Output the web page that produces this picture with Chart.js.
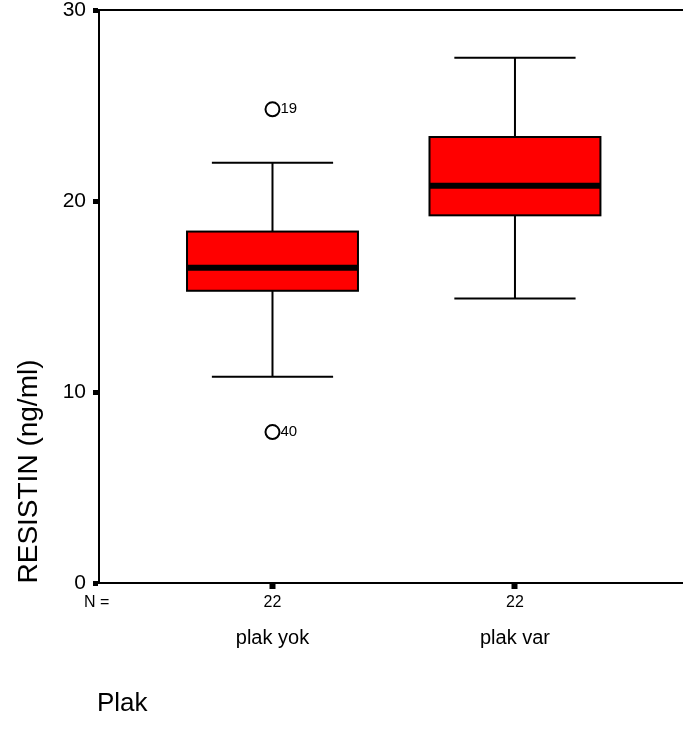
<!DOCTYPE html>
<html>
<head>
<meta charset="utf-8">
<script src="https://cdn.jsdelivr.net/npm/chart.js@4.4.1/dist/chart.umd.min.js"></script>
<style>
  body { margin: 0; background: #fff; }
  #wrap { position: relative; width: 683px; height: 729px; }
</style>
</head>
<body>
<div id="wrap"><canvas id="box-chart"></canvas></div>
<script>
// data
const categories = ['plak yok', 'plak var'];
const counts = [22, 22];
const whiskerLow = [10.8, 14.9];
const q1 = [15.3, 19.25];
const median = [16.5, 20.8];
const q3 = [18.4, 23.35];
const whiskerHigh = [22.0, 27.5];
const outlierValues = [[24.8, 7.9], []];
const outlierIds = [['19', '40'], []];
const yTicks = [0, 10, 20, 30];

const FONT = "'Liberation Sans', Arial, Helvetica, sans-serif";
const BOX_W = 0.705;   // in x units
const CAP_W = 0.5;

const outlierPoints = [];
outlierValues.forEach((vals, i) => vals.forEach(v => outlierPoints.push({ x: i + 1, y: v })));

const boxPlugin = {
    id: 'boxes',
    beforeDatasetsDraw(chart) {
        const ctx = chart.ctx;
        const xs = chart.scales.x, ys = chart.scales.y;
        ctx.save();
        categories.forEach((c, i) => {
            const cx = xs.getPixelForValue(i + 1);
            const half = xs.getPixelForValue(i + 1 + BOX_W / 2) - cx;
            const capHalf = xs.getPixelForValue(i + 1 + CAP_W / 2) - cx;
            const yLo = ys.getPixelForValue(whiskerLow[i]);
            const yHi = ys.getPixelForValue(whiskerHigh[i]);
            const yQ1 = ys.getPixelForValue(q1[i]);
            const yQ3 = ys.getPixelForValue(q3[i]);
            const yMed = ys.getPixelForValue(median[i]);

            // whiskers
            ctx.strokeStyle = '#000';
            ctx.lineWidth = 2;
            ctx.beginPath();
            ctx.moveTo(cx, yQ3); ctx.lineTo(cx, yHi);
            ctx.moveTo(cx, yQ1); ctx.lineTo(cx, yLo);
            ctx.moveTo(cx - capHalf, yHi); ctx.lineTo(cx + capHalf, yHi);
            ctx.moveTo(cx - capHalf, yLo); ctx.lineTo(cx + capHalf, yLo);
            ctx.stroke();

            // box
            ctx.fillStyle = '#ff0000';
            ctx.fillRect(cx - half, yQ3, half * 2, yQ1 - yQ3);
            ctx.lineWidth = 2;
            ctx.strokeRect(cx - half, yQ3, half * 2, yQ1 - yQ3);

            // median
            ctx.lineWidth = 6;
            ctx.beginPath();
            ctx.moveTo(cx - half, yMed); ctx.lineTo(cx + half, yMed);
            ctx.stroke();
        });
        ctx.restore();
    },
    afterDraw(chart) {
        const ctx = chart.ctx;
        const xs = chart.scales.x, ys = chart.scales.y;
        const area = chart.chartArea;
        ctx.save();

        // top frame line
        ctx.strokeStyle = '#000';
        ctx.lineWidth = 2;
        ctx.beginPath();
        ctx.moveTo(area.left, area.top);
        ctx.lineTo(area.right, area.top);
        ctx.stroke();

        ctx.fillStyle = '#000';

        // outlier case numbers
        ctx.font = '15px ' + FONT;
        ctx.textAlign = 'left';
        ctx.textBaseline = 'middle';
        outlierValues.forEach((vals, i) => {
            vals.forEach((v, j) => {
                const px = xs.getPixelForValue(i + 1) + 8;
                const py = ys.getPixelForValue(v);
                ctx.fillText(outlierIds[i][j], px, py);
            });
        });

        // N row
        ctx.textBaseline = 'alphabetic';
        ctx.font = '16px ' + FONT;
        ctx.textAlign = 'left';
        ctx.fillText('N =', 84, 607);
        ctx.textAlign = 'center';
        counts.forEach((n, i) => ctx.fillText(String(n), xs.getPixelForValue(i + 1), 607));

        // category labels
        ctx.font = '20px ' + FONT;
        categories.forEach((c, i) => ctx.fillText(c, xs.getPixelForValue(i + 1), 644));

        // x axis title
        ctx.font = '26px ' + FONT;
        ctx.textAlign = 'left';
        ctx.fillText('Plak', 97, 711);

        // y axis title
        ctx.translate(37, (ys.getPixelForValue(0) + 358) / 2 + 1);
        ctx.rotate(-Math.PI / 2);
        ctx.font = '28px ' + FONT;
        ctx.textAlign = 'center';
        ctx.fillText('RESISTIN (ng/ml)', 0, 0);

        ctx.restore();
    }
};

new Chart(document.querySelector('#box-chart').getContext('2d'), {
    type: 'scatter',
    data: {
        datasets: [{
            label: 'outliers',
            data: outlierPoints,
            pointRadius: 7,
            pointBorderWidth: 2,
            pointBorderColor: '#000',
            pointBackgroundColor: '#fff',
            pointHoverRadius: 7
        }]
    },
    options: {
        responsive: true,
        maintainAspectRatio: false,
        animation: false,
        layout: { autoPadding: false, padding: { top: 10, right: 0, left: 0, bottom: 0 } },
        plugins: { legend: { display: false }, tooltip: { enabled: false } },
        scales: {
            x: {
                type: 'linear',
                min: 0.2845,
                max: 2.693,
                afterBuildTicks: scale => { scale.ticks = categories.map((c, i) => ({ value: i + 1 })); },
                ticks: { display: false },
                grid: { display: true, drawOnChartArea: false, drawTicks: true, tickLength: 6, tickWidth: 6, tickColor: '#000' },
                border: { display: true, color: '#000', width: 2 },
                afterFit: scale => { scale.height = 146; scale.paddingLeft = 0; scale.paddingRight = 0; }
            },
            y: {
                type: 'linear',
                min: 0,
                max: 30,
                afterBuildTicks: scale => { scale.ticks = yTicks.map(v => ({ value: v })); },
                ticks: { color: '#000', padding: 7, font: { family: FONT, size: 21 } },
                grid: { display: true, drawOnChartArea: false, drawTicks: true, tickLength: 6, tickWidth: 5, tickColor: '#000' },
                border: { display: true, color: '#000', width: 2 },
                afterFit: scale => { scale.width = 99; scale.paddingTop = 0; scale.paddingBottom = 0; }
            }
        }
    },
    plugins: [boxPlugin]
});
</script>
</body>
</html>
